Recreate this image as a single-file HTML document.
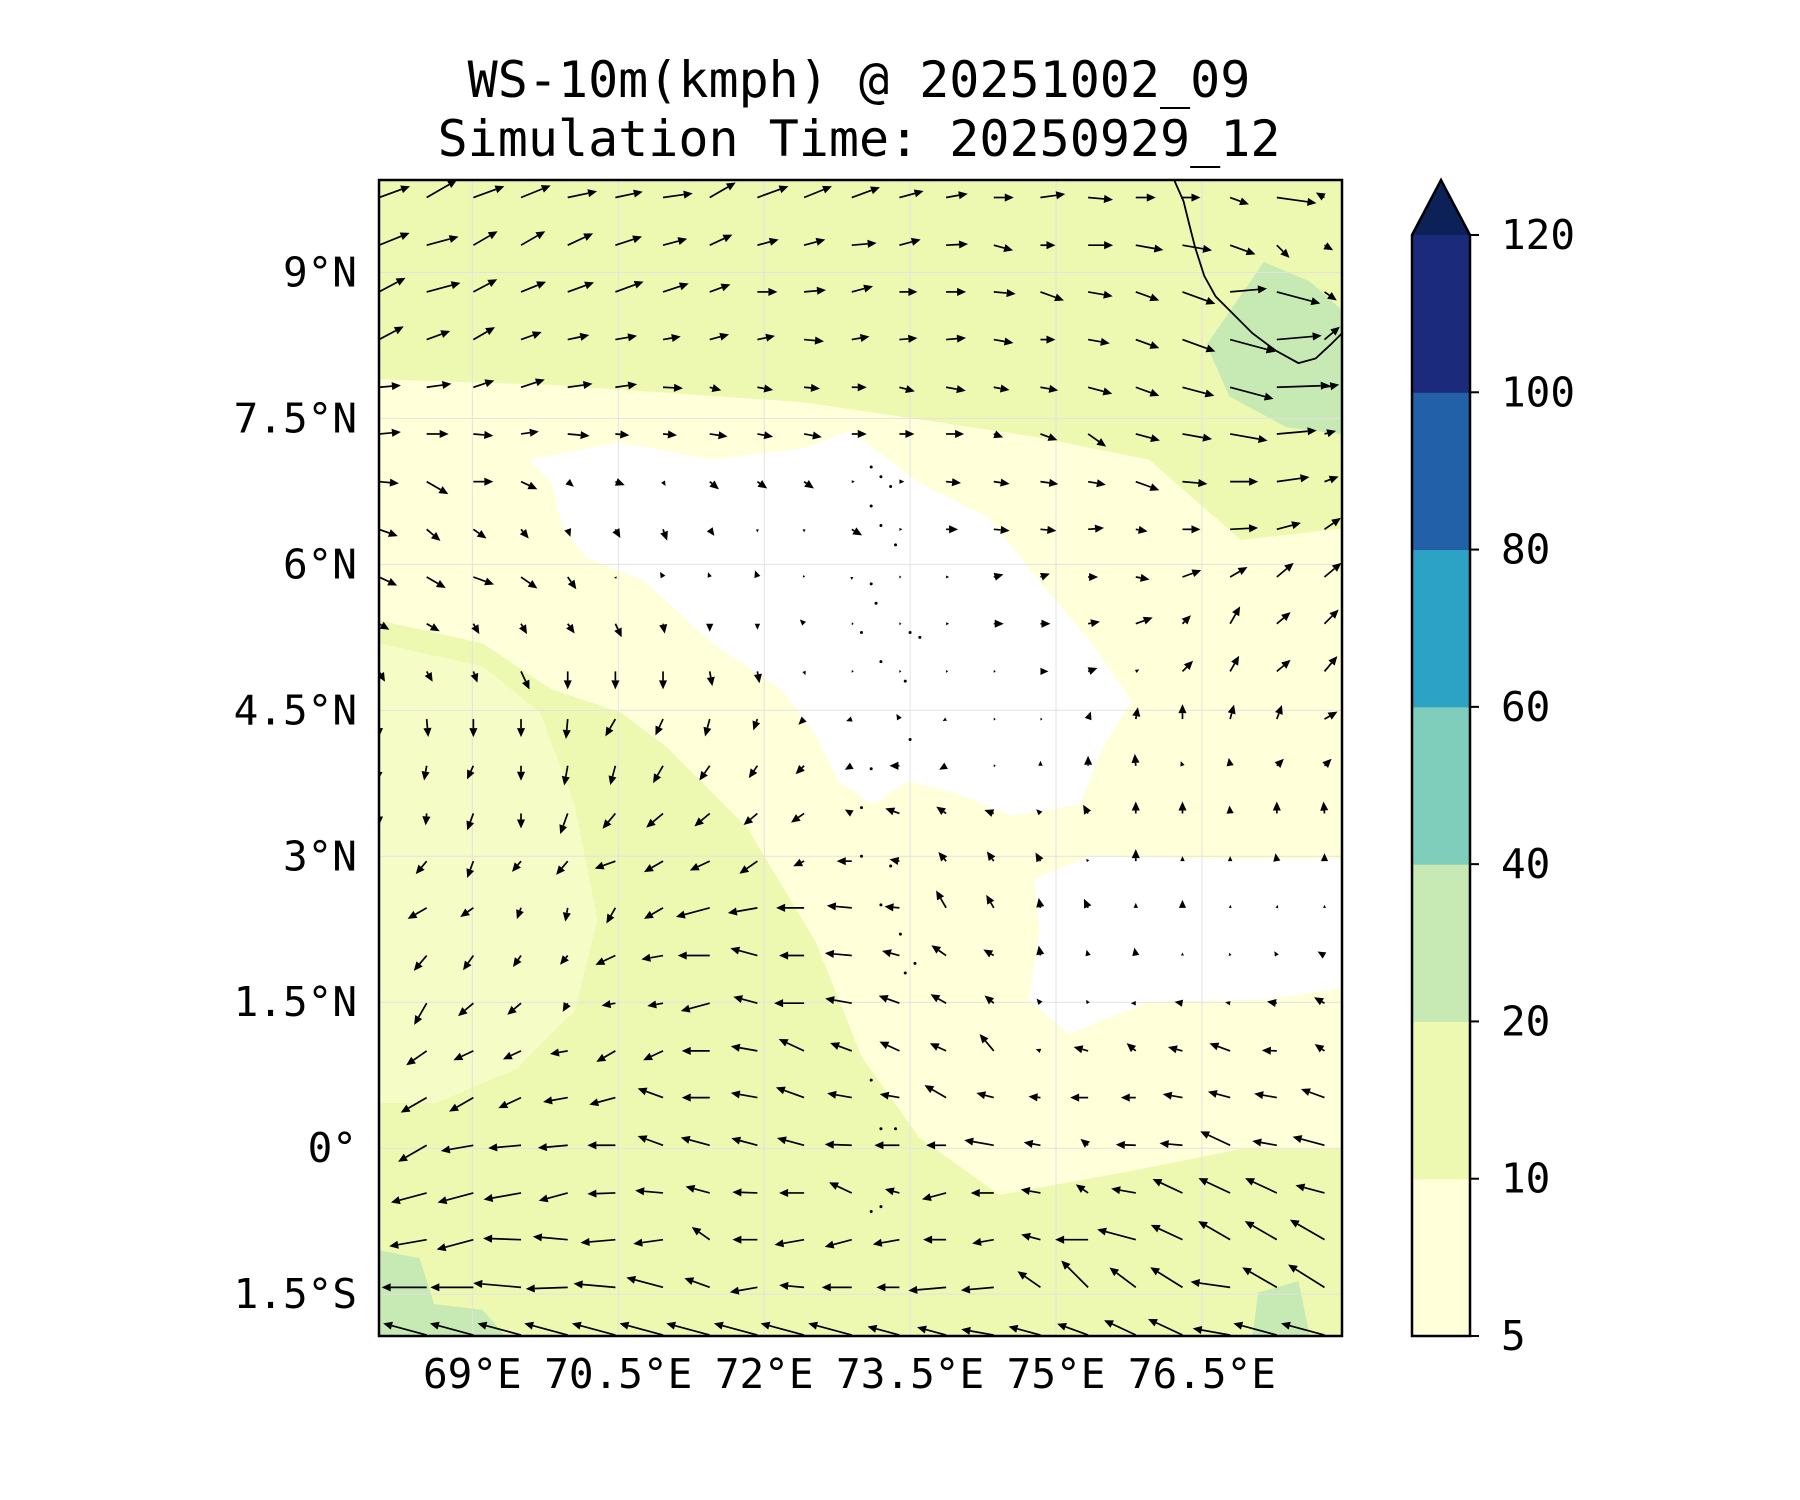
<!DOCTYPE html>
<html><head><meta charset="utf-8">
<style>
html,body{margin:0;padding:0;background:#fff;}
svg{display:block;font-family:"DejaVu Sans Mono","Liberation Mono",monospace;}
</style></head>
<body>
<svg id="chart" width="1800" height="1500" viewBox="0 0 1800 1500" xmlns="http://www.w3.org/2000/svg">
<text x="859" y="97" font-size="50" text-anchor="middle">WS-10m(kmph) @ 20251002_09</text>
<text x="859" y="156" font-size="50" text-anchor="middle">Simulation Time: 20250929_12</text>
<defs><clipPath id="mapclip"><rect x="379" y="180" width="963" height="1156"/></clipPath></defs>
<g id="map" clip-path="url(#mapclip)">
<rect x="379" y="180" width="963" height="1156" fill="#edf8b1"/>
<g id="fills"></g>
<g id="grid"></g>
<path id="coast" fill="none" stroke="#000" stroke-width="1.8"/>
<g id="islands" fill="#000"></g>
<g id="arrows"></g>
</g>
<rect x="379" y="180" width="963" height="1156" fill="none" stroke="#000" stroke-width="2.5"/>
<g id="axes"></g>
<g id="colorbar"></g>
</svg>
<script>
const NS="http://www.w3.org/2000/svg";
// axis extents
const lonMin=68.04, lonMax=77.94, latMin=-1.93, latMax=9.95;
const X0=379, X1=1342, Y0=180, Y1=1336;
function xs(lon){return X0+(lon-lonMin)/(lonMax-lonMin)*(X1-X0);}
function ys(lat){return Y1-(lat-latMin)/(latMax-latMin)*(Y1-Y0);}

const lonTicks=[69,70.5,72,73.5,75,76.5];
const lonTickLabels=["69°E","70.5°E","72°E","73.5°E","75°E","76.5°E"];
const latTicks=[9,7.5,6,4.5,3,1.5,0,-1.5];
const latTickLabels=["9°N","7.5°N","6°N","4.5°N","3°N","1.5°N","0°","1.5°S"];

// wind field grid
const gridLons=[68.04,68.53,69.01,69.50,69.98,70.47,70.96,71.44,71.93,72.41,72.90,73.39,73.87,74.36,74.84,75.33,75.82,76.30,76.79,77.27,77.76];
const gridLats=[9.77,9.28,8.80,8.31,7.82,7.34,6.85,6.36,5.87,5.39,4.90,4.41,3.93,3.44,2.95,2.47,1.98,1.49,1.00,0.52,0.03,-0.46,-0.94,-1.43,-1.92];
// direction the wind blows toward (deg, 0=east, +north), one row per latitude
const windDir=[
[20,30,20,22,12,12,8,30,20,22,20,15,10,0,8,-5,0,0,-20,-8,150],
[22,15,30,30,25,18,15,25,15,15,5,15,3,-15,0,0,-10,-10,-20,-45,-30],
[28,15,28,22,20,20,18,20,0,5,15,0,0,-5,-20,-10,-20,-20,5,-15,-35],
[28,20,30,20,12,10,10,15,12,-5,10,5,5,-10,0,-10,-20,-20,-15,5,40],
[5,8,18,18,8,8,-3,-15,-10,-5,0,-15,-10,-10,-10,-15,-20,-15,-15,2,10],
[5,0,-5,8,-5,-5,-5,-8,-10,-10,0,0,0,-20,-20,-35,-15,-10,-10,5,15],
[-5,-30,0,-25,-40,-20,-60,-40,-35,-35,0,0,-5,-8,-8,-10,-20,-5,0,8,20],
[-20,-40,-35,-50,-70,-60,-70,-55,-90,-90,-30,0,0,-5,-5,5,-10,0,3,15,35],
[-25,-30,-20,-35,-55,-60,120,110,110,120,-90,0,0,15,20,0,-10,20,30,40,40],
[-30,-30,-60,-60,-55,-65,-80,-90,-90,135,0,0,0,0,0,10,20,45,60,40,45],
[-60,-60,-70,-65,-90,-90,-90,-80,-80,-70,0,0,0,0,0,20,30,45,60,40,50],
[-90,-85,-90,-90,-95,-120,-115,-105,-110,-135,-160,120,-150,0,0,70,80,90,75,70,30],
[-95,-100,-115,-90,-100,-105,-120,-125,-125,-135,-150,180,-150,0,90,90,95,110,100,45,45],
[-90,-95,-110,-90,-110,-130,-140,-140,-140,-145,150,160,145,160,135,120,90,90,95,90,95],
[-125,-130,-110,-130,-130,-160,-150,-155,-145,-155,180,170,130,125,120,130,90,90,90,100,90],
[-140,-150,-145,-110,-100,-120,-150,-165,-170,180,175,175,120,120,100,115,90,90,80,70,90],
[-130,-130,-125,-125,-130,-155,-170,-180,165,180,175,165,145,150,100,105,100,90,110,120,150],
[-120,-120,-140,-140,-120,-170,-170,-165,165,180,170,160,150,140,130,120,180,170,170,170,150],
[-145,-145,-155,-155,-170,-150,-155,180,170,155,160,155,155,130,160,165,140,165,160,178,145],
[-150,-150,-150,-155,-170,-165,160,180,170,160,170,170,150,165,175,180,180,170,165,170,160],
[-150,-150,-170,-175,-175,180,160,165,165,165,178,180,180,170,170,140,178,175,155,170,165],
[-165,-165,-165,-170,-165,-178,175,165,178,180,155,165,-165,180,170,145,170,155,155,155,165],
[-170,-170,-165,178,175,-175,-172,145,180,-170,-165,-170,180,-170,165,180,165,155,150,150,150],
[180,180,-180,175,-178,175,165,160,-170,175,-180,180,-175,-175,145,135,143,148,172,150,148],
[165,165,165,165,165,165,165,165,165,165,165,165,165,170,165,160,155,155,170,165,165]
];
// wind speed (kmph-scaled arrow magnitude), one row per latitude
const windSpeed=[
[33,35,33,32,30,28,30,30,33,30,30,25,22,20,25,25,20,18,20,40,10],
[33,33,28,28,28,28,25,25,22,22,25,22,22,20,15,25,28,30,27,18,10],
[30,35,27,27,28,30,27,22,20,22,22,18,20,22,25,25,25,35,37,45,15],
[28,25,25,22,22,22,18,20,18,20,18,18,20,20,15,22,25,35,47,45,20],
[22,25,22,25,25,22,20,12,16,16,15,16,20,16,18,25,25,33,45,53,15],
[22,22,20,18,22,14,14,18,16,18,15,15,18,10,18,22,25,30,38,40,12],
[20,25,20,18,8,10,5,12,12,12,3,5,15,16,18,18,25,25,28,33,15],
[20,18,16,12,8,10,12,8,3,3,12,3,12,16,16,16,12,18,28,25,20],
[20,22,22,20,15,2,6,5,7,2,3,2,3,10,10,10,14,20,20,22,22],
[12,15,12,12,12,15,10,8,6,6,2,2,3,10,10,12,18,12,20,18,20],
[12,12,12,20,18,18,18,15,12,4,2,2,2,2,8,10,4,15,18,18,20],
[18,18,18,18,20,20,18,18,12,8,6,6,4,2,2,8,12,15,15,15,15],
[15,15,15,15,20,20,20,18,15,12,8,10,8,2,5,10,12,5,8,10,10],
[12,12,18,15,22,20,22,20,18,16,8,15,12,10,6,10,12,12,8,12,12],
[15,17,18,14,18,22,22,22,22,12,15,10,12,12,10,3,12,5,5,8,8],
[20,22,16,12,14,18,22,35,30,28,25,15,20,15,10,10,5,8,3,3,3],
[20,20,18,14,12,22,22,32,28,25,27,18,18,12,10,6,8,3,3,5,8],
[25,25,20,18,10,14,16,30,25,30,27,22,18,12,6,4,5,8,5,10,12],
[25,25,22,20,18,22,22,28,27,28,23,22,18,22,5,15,12,15,22,15,12],
[30,30,28,25,25,27,27,28,27,30,25,20,25,18,12,18,15,20,23,23,25],
[33,33,33,33,30,28,27,30,27,28,27,25,20,30,17,10,20,23,33,25,33],
[37,37,37,38,30,28,28,25,25,25,25,15,25,23,20,15,25,33,35,35,30],
[38,38,38,38,35,35,30,22,25,30,28,27,23,22,20,33,40,35,37,37,40],
[45,45,43,48,42,42,38,27,28,25,30,23,38,33,28,38,33,38,40,40,43],
[45,45,45,45,45,45,45,45,45,45,45,33,30,33,33,33,35,38,38,45,45]
];
const quiverScale=1.0; // px per speed unit

// colorbar
const cbLevels=[5,10,20,40,60,80,100,120];
const cbColors=["#ffffd9","#edf8b1","#c7e9b4","#7fcdbb","#2ca3c4","#2260a8","#1c2a7c"];
const cbOverColor="#0b2158";

function el(tag,attrs,parent){const e=document.createElementNS(NS,tag);for(const k in attrs)e.setAttribute(k,attrs[k]);parent.appendChild(e);return e;}

const S=1.149;
function pts2d(pts){return 'M'+pts.map(q=>(q[0]*S).toFixed(1)+','+(q[1]*S).toFixed(1)).join(' L');}
function poly(pts,fill,name){
  const g=document.getElementById('fills');
  const p=el('path',{d:pts2d(pts)+' Z',fill:fill},g);
  
  
}
poly([[330,330],[480,335],[700,350],[900,380],[1000,400],[1080,470],[1168,460],[1168,1000],[1080,1000],[980,1020],[870,1040],[800,990],[750,920],[710,820],[650,720],[580,650],[540,620],[480,600],[420,560],[330,540]],"#ffffd9","pale-region-5-10");
poly([[330,560],[420,580],[470,620],[500,700],[520,800],[500,880],[450,930],[380,960],[330,960]],"#f6fcc6","pale-region-west");
poly([[460,400],[540,385],[620,400],[700,390],[740,375],[760,390],[800,420],[860,450],[900,500],[950,560],[985,610],[960,650],[940,700],[880,710],[830,690],[790,680],[760,700],[730,680],[710,640],[680,600],[620,560],[560,505],[510,485],[490,460],[480,420]],"#ffffff","calm-region-central");
poly([[900,765],[950,745],[1060,748],[1168,748],[1168,860],[1100,870],[1000,872],[930,900],[895,870],[905,810]],"#ffffff","calm-region-east");
poly([[1050,300],[1100,228],[1140,245],[1168,270],[1168,378],[1120,372],[1070,345]],"#c7e9b4","stronger-wind-region-northeast");
poly([[330,1088],[365,1095],[378,1135],[420,1140],[440,1163],[330,1163]],"#c7e9b4","stronger-wind-region-southwest");
poly([[1095,1125],[1130,1115],[1140,1163],[1090,1163]],"#c7e9b4","stronger-wind-region-south");
document.getElementById('coast').setAttribute('d',pts2d([[1022,157],[1030,175],[1035,195],[1040,215],[1048,240],[1058,258],[1072,272],[1090,290],[1110,305],[1130,316],[1145,312],[1158,300],[1168,290]]));

// gridlines
const gg=document.getElementById('grid');
lonTicks.forEach(v=>{const l=el('line',{x1:xs(v),x2:xs(v),y1:Y0,y2:Y1,stroke:'#e2e2e2','stroke-width':1},gg);

});
latTicks.forEach(v=>{const l=el('line',{x1:X0,x2:X1,y1:ys(v),y2:ys(v),stroke:'#e2e2e2','stroke-width':1},gg);

});

// islands (dots)
const isl=document.getElementById('islands');
const islandLL=[[73.1,7.0],[73.2,6.9],[73.3,6.8],[73.1,6.6],[73.2,6.4],[73.35,6.2],[73.1,5.8],[73.15,5.6],[73.0,5.3],[73.5,5.3],[73.6,5.25],[73.2,5.0],[73.45,4.8],[73.5,4.2],[73.1,3.9],[73.0,3.5],[73.0,3.0],[73.3,2.9],[73.2,2.5],[73.4,2.2],[73.55,1.9],[73.45,1.8],[73.1,0.7],[73.2,0.2],[73.35,0.2],[73.2,-0.6],[73.1,-0.65]];
islandLL.forEach(p=>{el('circle',{cx:xs(p[0]),cy:ys(p[1]),r:1.5},isl);});

// arrows (pivot at tail)
const ag=document.getElementById('arrows');
gridLats.forEach((lat,j)=>{
  gridLons.forEach((lon,i)=>{
    const d=windDir[j][i]*Math.PI/180;
    const L=windSpeed[j][i]*quiverScale;
    const x0=xs(lon), y0=ys(lat);
    const ux=Math.cos(d), uy=-Math.sin(d);
    const x1=x0+L*ux, y1=y0+L*uy;
    const hl=Math.min(9,L), hw=Math.max(1.5,hl*0.45);
    const bx=x1-ux*hl, by=y1-uy*hl;
    const g=el('g',{},ag);
    
    
    if(L>hl) el('line',{x1:x0,y1:y0,x2:bx,y2:by,stroke:'#000','stroke-width':1.7},g);
    el('path',{d:`M${x1},${y1} L${bx-uy*hw},${by+ux*hw} L${bx+uy*hw},${by-ux*hw} Z`,fill:'#000'},g);
  });
});

// axis labels
const ax=document.getElementById('axes');
lonTicks.forEach((v,i)=>{const t=el('text',{x:xs(v),y:1388,'font-size':41,'text-anchor':'middle'},ax);t.textContent=lonTickLabels[i];

});
latTicks.forEach((v,i)=>{const t=el('text',{x:357,y:ys(v)+14,'font-size':41,'text-anchor':'end'},ax);t.textContent=latTickLabels[i];

});

// colorbar
const cb=document.getElementById('colorbar');
const CX0=1412, CX1=1470, CB0=1336, CBT=235, CTIP=180;
const step=(CB0-CBT)/(cbLevels.length-1);
cbColors.forEach((c,i)=>{const r=el('rect',{x:CX0,y:CB0-(i+1)*step,width:CX1-CX0,height:step+0.5,fill:c},cb);

});
const tip=el('path',{d:`M${CX0},${CBT} L${(CX0+CX1)/2},${CTIP} L${CX1},${CBT} Z`,fill:cbOverColor},cb);


el('path',{d:`M${CX0},${CBT} L${(CX0+CX1)/2},${CTIP} L${CX1},${CBT} L${CX1},${CB0} L${CX0},${CB0} Z`,fill:'none',stroke:'#000','stroke-width':2.5},cb);
cbLevels.forEach((v,i)=>{const y=CB0-i*step;
  el('line',{x1:CX1,x2:CX1+9,y1:y,y2:y,stroke:'#000','stroke-width':2},cb);
  const t=el('text',{x:1501,y:y+14,'font-size':41},cb);t.textContent=v;
  
  });
</script>
</body></html>
